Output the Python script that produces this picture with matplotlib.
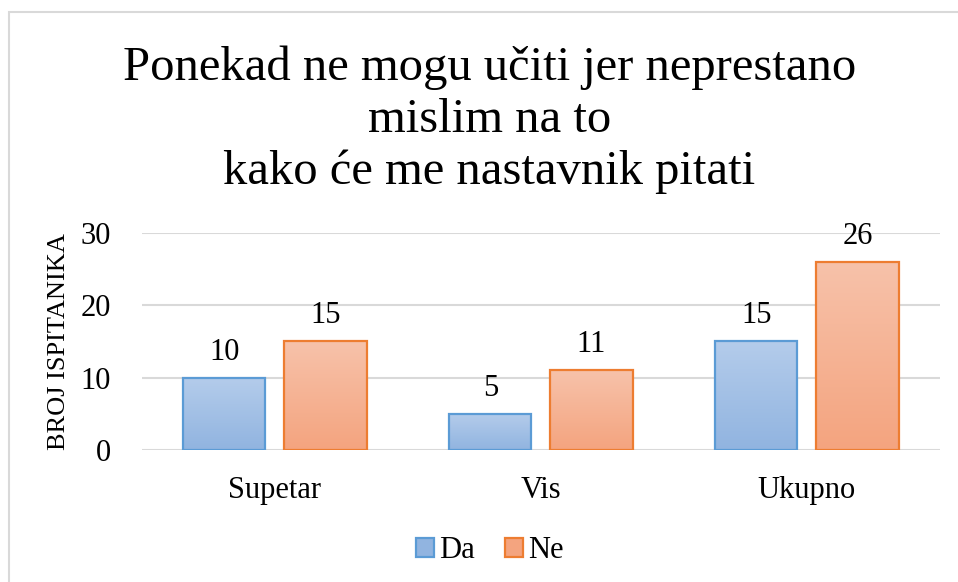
import numpy as np
import matplotlib
matplotlib.use("Agg")
import matplotlib.pyplot as plt
from matplotlib.colors import LinearSegmentedColormap
from matplotlib.patches import Patch

# podaci
kategorije = ["Supetar", "Vis", "Ukupno"]
da = [10, 5, 15]
ne = [15, 11, 26]
serije = ["Da", "Ne"]
y_ticks = [0, 10, 20, 30]

plt.rcParams["font.family"] = ["Liberation Serif", "DejaVu Serif"]

fig = plt.figure(figsize=(9.58, 5.82), dpi=100)
ax = fig.add_axes([0.148, 0.2268, 0.833, 0.3729])

# okvir grafikona
fig.patches.append(plt.Rectangle((9 / 958, -0.1), 1.2, 1 - 12 / 582 + 0.1,
                                 transform=fig.transFigure, fill=False,
                                 edgecolor="#d9d9d9", linewidth=1.5))

boje = {
    "Da": ("#b4cceb", "#91b4e0", "#5b9bd5"),
    "Ne": ("#f7c2aa", "#f4a47f", "#ed7d31"),
}

x = np.arange(len(kategorije))
sirina = 0.31
pomak = 0.19

for vrijednosti, ime, dx in [(da, "Da", -pomak), (ne, "Ne", pomak)]:
    gornja, donja, rub = boje[ime]
    cmap = LinearSegmentedColormap.from_list(ime, [donja, gornja])
    grad = np.linspace(0, 1, 100).reshape(-1, 1)
    bars = ax.bar(x + dx, vrijednosti, sirina, facecolor="none",
                  edgecolor=rub, linewidth=1.6, zorder=3)
    for b, v in zip(bars, vrijednosti):
        x0 = b.get_x()
        im = ax.imshow(grad, extent=[x0, x0 + sirina, 0, v], origin="lower",
                       cmap=cmap, aspect="auto", zorder=2)
        im.set_clip_path(b)
        ax.annotate(str(v), (x0 + sirina / 2, v), xytext=(0, 8),
                    textcoords="offset points", ha="center", va="bottom",
                    fontsize=22)

ax.set_xlim(-0.5, len(kategorije) - 0.5)
ax.set_ylim(0, 30)
ax.set_yticks(y_ticks)
ax.set_xticks(x)
ax.set_xticklabels(kategorije)
ax.tick_params(axis="both", length=0, labelsize=22)
ax.tick_params(axis="y", pad=22)
ax.tick_params(axis="x", pad=19)
ax.grid(axis="y", color="#d9d9d9", linewidth=1.5, zorder=0)
ax.set_axisbelow(True)
for s in ax.spines.values():
    s.set_visible(False)

ax.set_ylabel("BROJ ISPITANIKA", fontsize=19, labelpad=8)

fig.text(0.511, 0.921, "Ponekad ne mogu učiti jer neprestano\nmislim na to\nkako će me nastavnik pitati",
         ha="center", va="top", fontsize=35, linespacing=1.22)

handles = [Patch(facecolor=boje[s][1], edgecolor=boje[s][2], linewidth=1.6) for s in serije]
fig.legend(handles, serije, loc="center", bbox_to_anchor=(0.511, 0.054),
           ncol=2, frameon=False, fontsize=22, handlelength=0.6, handleheight=0.6,
           handletextpad=0.15, columnspacing=1.0)

fig.savefig("out.png", dpi=100)
